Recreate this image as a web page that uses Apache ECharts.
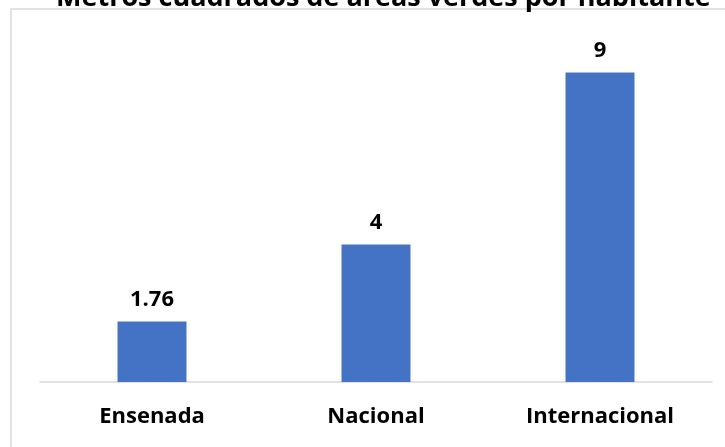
<!DOCTYPE html>
<html><head><meta charset="utf-8">
<script src="https://cdn.jsdelivr.net/npm/echarts@6/dist/echarts.min.js"></script>
<style>html,body{margin:0;padding:0;background:#fff}#c{width:725px;height:447px}</style>
</head><body><div id="c"></div>
<script>
const titleText = 'Metros cuadrados de áreas verdes por habitante';
const categories = ['Ensenada', 'Nacional', 'Internacional'];
const values = [1.76, 4, 9];
const valueLabels = ['1.76', '4', '9'];

const chart = echarts.init(document.getElementById('c'));
const font = '"Open Sans", sans-serif';
chart.setOption({
  animation: false,
  title: {
    text: titleText, left: 51, top: -20,
    textStyle: {fontFamily: font, fontWeight: 'bold', fontSize: 27, color: '#000'}
  },
  graphic: [{
    type: 'rect', shape: {x: 11, y: 9, width: 760, height: 500},
    style: {fill: 'none', stroke: '#d9d9d9', lineWidth: 1.5}, z: -1
  }],
  grid: {left: 40, right: 13, top: 38, bottom: 65},
  xAxis: {
    type: 'category', data: categories,
    axisLine: {lineStyle: {color: '#d9d9d9', width: 1.5}},
    axisTick: {show: false},
    axisLabel: {fontFamily: font, fontWeight: 'bold', fontSize: 22, color: '#000', margin: 24}
  },
  yAxis: {type: 'value', min: 0, max: 10, show: false, splitLine: {show: false}},
  series: [{
    type: 'bar', data: values, barWidth: 69,
    itemStyle: {color: '#4472C4'},
    label: {
      show: true, position: 'top', distance: 11,
      fontFamily: font, fontWeight: 'bold', fontSize: 22, color: '#000',
      formatter: p => valueLabels[p.dataIndex]
    }
  }]
});
</script></body></html>
